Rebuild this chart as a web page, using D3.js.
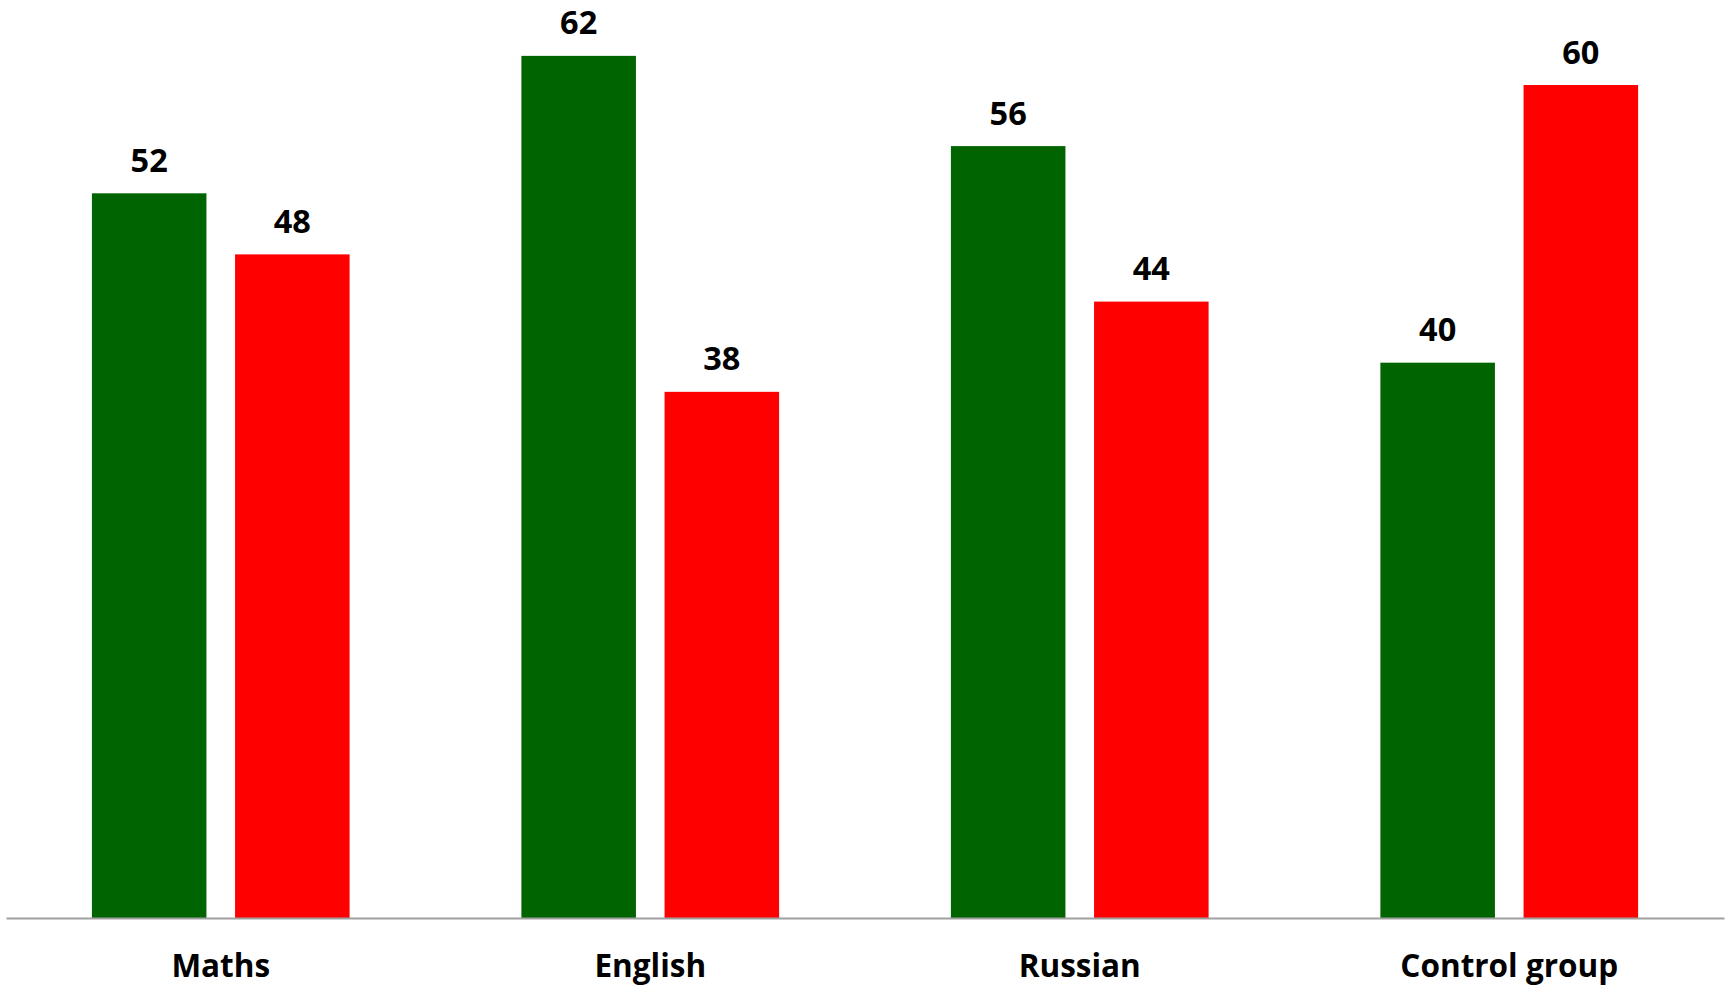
<!DOCTYPE html>
<html>
<head>
<meta charset="utf-8">
<script src="https://cdn.jsdelivr.net/npm/d3@7"></script>
<style>
html,body{margin:0;padding:0;background:#fff;overflow:hidden;}
svg{display:block;}
</style>
</head>
<body>
<svg id="chart" width="1727" height="987"></svg>
<script>
const categories = ["Maths", "English", "Russian", "Control group"];
const seriesNames = ["Positive", "Negative"];
const positiveValues = [52.2, 62.1, 55.6, 40.0];
const negativeValues = [47.8, 37.9, 44.4, 60.0];
const seriesColors = ["#006400", "#ff0000"];

const svg = d3.select("#chart");
const margin = {left: 6, right: 3, bottom: 69};
const W = 1727, H = 987;
const baseY = H - margin.bottom; // 918
const pxPer100 = 1388.3;

const x = d3.scaleBand().domain(categories).range([margin.left, W - margin.right]).paddingInner(0).paddingOuter(0);
const xs = d3.scaleBand().domain(seriesNames).range([85.9, x.bandwidth() - 85.9]).paddingInner(0.2);
const y = d3.scaleLinear().domain([0, 100]).range([baseY, baseY - pxPer100]);
const fmt = d3.format(".0f");
const FONT = "'Open Sans', 'Noto Sans', sans-serif";

const data = categories.map((c, i) => ({cat: c, vals: [positiveValues[i], negativeValues[i]]}));

const groups = svg.selectAll("g.grp").data(data).join("g")
  .attr("class", "grp")
  .attr("transform", d => `translate(${x(d.cat)},0)`);

groups.selectAll("rect").data(d => d.vals.map((v, j) => ({v, s: seriesNames[j], j})))
  .join("rect")
  .attr("x", d => xs(d.s))
  .attr("width", xs.bandwidth())
  .attr("y", d => y(d.v))
  .attr("height", d => baseY - y(d.v))
  .attr("fill", d => seriesColors[d.j]);

groups.selectAll("text.val").data(d => d.vals.map((v, j) => ({v, s: seriesNames[j]})))
  .join("text")
  .attr("class", "val")
  .attr("x", d => xs(d.s) + xs.bandwidth() / 2)
  .attr("y", d => y(d.v) - 21.5)
  .attr("text-anchor", "middle")
  .attr("font-family", FONT)
  .attr("font-weight", "bold")
  .attr("font-size", 32.5)
  .attr("fill", "#000")
  .text(d => fmt(d.v));

const axis = d3.axisBottom(x).tickSize(0).tickPadding(0);
const ax = svg.append("g").attr("transform", `translate(0,${baseY})`).call(axis);
ax.select(".domain").attr("stroke", "#a0a0a0").attr("stroke-width", 2);
ax.selectAll(".tick text")
  .attr("dy", null)
  .attr("y", 59)
  .attr("font-family", FONT)
  .attr("font-weight", "bold")
  .attr("font-size", 31.5)
  .attr("fill", "#000");
</script>
</body>
</html>
